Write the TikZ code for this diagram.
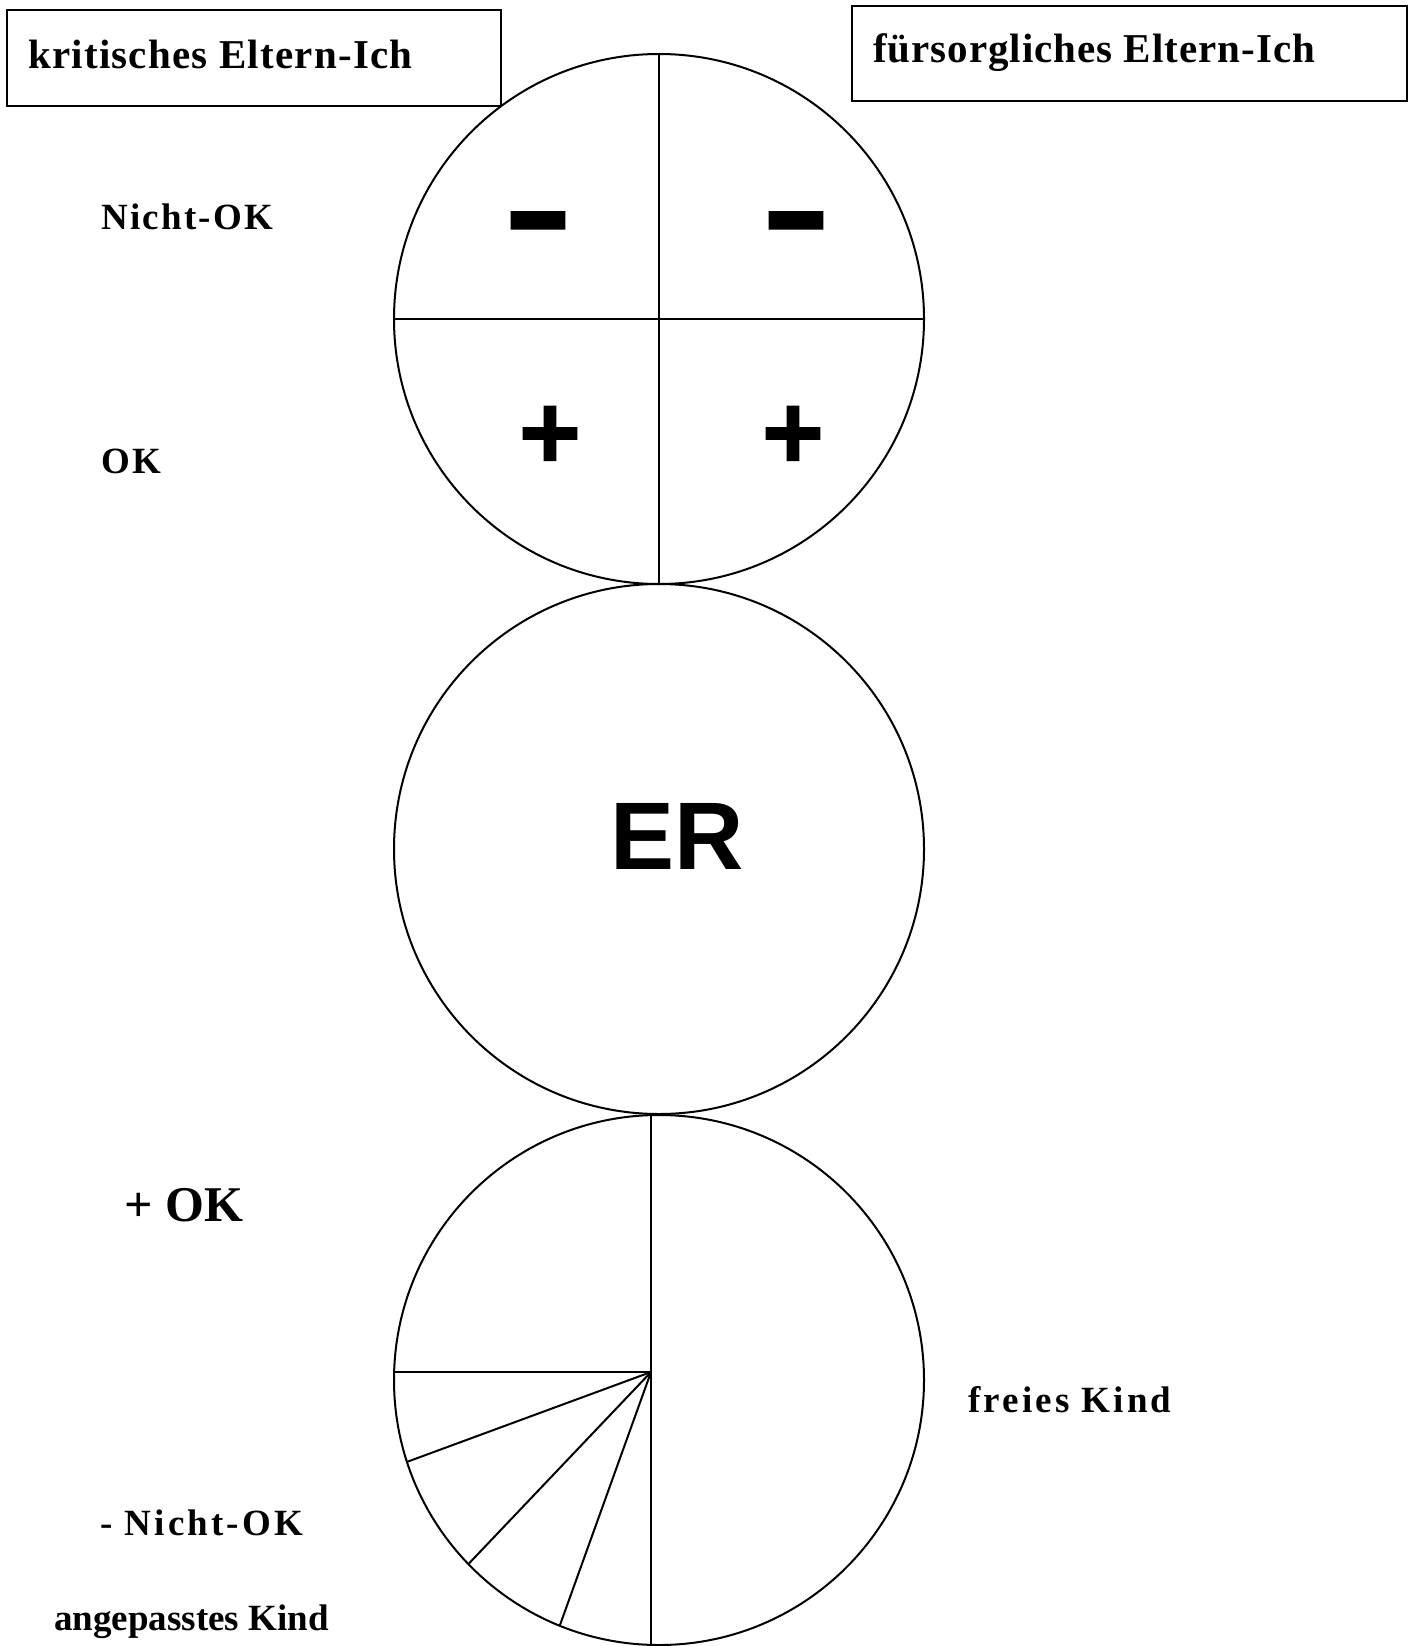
\documentclass[tikz,border=0pt]{standalone}
\usepackage{fontspec}
\setmainfont{Liberation Serif}
\newfontfamily\spacedserif{Liberation Serif}[LetterSpace=6]
\newfontfamily\widerserif{Liberation Serif}[LetterSpace=8.5]
\newfontfamily\boxserif{Liberation Serif}[LetterSpace=3]
\newfontfamily\tightboxserif{Liberation Serif}[LetterSpace=2.4]
\newfontfamily\signsans{Liberation Sans}[BoldFeatures={FakeBold=1}]
\newfontfamily\bigsans{Liberation Sans}

\tikzset{
  labelbox/.style={draw, line width=2pt, inner sep=0pt, outer sep=0pt, anchor=north west},
  ring/.style={draw, circle, minimum size=530pt, inner sep=0pt, outer sep=0pt, line width=2pt},
  divider/.style={line width=2pt},
  boxtext/.style={anchor=base west, inner sep=0pt, font=\boxserif\bfseries\fontsize{41}{48}\selectfont},
  sidetext/.style={anchor=base west, inner sep=0pt, font=\spacedserif\bfseries\fontsize{37}{44}\selectfont},
  widetext/.style={anchor=base west, inner sep=0pt, font=\widerserif\bfseries\fontsize{37}{44}\selectfont},
  sign/.style={anchor=base, inner sep=0pt, font=\signsans\bfseries\fontsize{107}{120}\selectfont},
}

\begin{document}
\begin{tikzpicture}[x=1pt, y=-1pt]
\useasboundingbox (0,0) rectangle (1408,1646);
\fill[white] (0,0) rectangle (1408,1646);

% title boxes of the two parent states
\node[labelbox, minimum width=494pt, minimum height=96pt] (critbox) at (7,10) {};
\node[labelbox, minimum width=555pt, minimum height=95pt] (carebox) at (852,6) {};
\node[boxtext] (crittext) at (28,69) {kritisches Eltern-Ich};
\node[boxtext, font=\tightboxserif\bfseries\fontsize{41}{48}\selectfont] (caretext) at (873,63) {fürsorgliches Eltern-Ich};

% three stacked circles: parent, adult, child
\node[ring] (parent) at (659,319) {};
\node[ring] (adult) at (659,849) {};
\node[ring] (child) at (659,1380) {};

% parent circle split into four quadrants
\draw[divider] (parent.north) -- (parent.south);
\draw[divider] (parent.west) -- (parent.east);

% signs in the quadrants
\node[sign] (minusL) at (538,272) {\scalebox{1}[1.45]{−}};
\node[sign] (minusR) at (796,272) {\scalebox{1}[1.45]{−}};
\node[sign] (plusL) at (550,469) {+};
\node[sign] (plusR) at (793,469) {+};

% adult state
\node[anchor=base, inner sep=0pt, font=\bigsans\bfseries\fontsize{96}{110}\selectfont] (er) at (677,869) {ER};

% child circle: half free child, quarter with fan of sectors
\coordinate (hub) at (651,1372);
\draw[divider] (hub |- child.north) -- (hub |- child.south);
\draw[divider] (child.west |- hub) -- (hub);
\draw[divider] (hub) -- (child.198);
\draw[divider] (hub) -- (child.224.7);
\draw[divider] (hub) -- (child.248.2);

% side labels
\node[sidetext] (notok) at (101,229) {Nicht-OK};
\node[sidetext] (ok) at (101,473) {OK};
\node[anchor=base west, inner sep=0pt, font=\bfseries\fontsize{50}{58}\selectfont] (plusok) at (124,1221) {+ OK};
\node[widetext] (minusnotok) at (100,1535) {- Nicht-OK};
\node[anchor=base west, inner sep=0pt, font=\bfseries\fontsize{37}{44}\selectfont] (adapted) at (54,1630) {angepasstes Kind};
\node[widetext] (free) at (968,1412) {freies Kind};
\end{tikzpicture}
\end{document}
